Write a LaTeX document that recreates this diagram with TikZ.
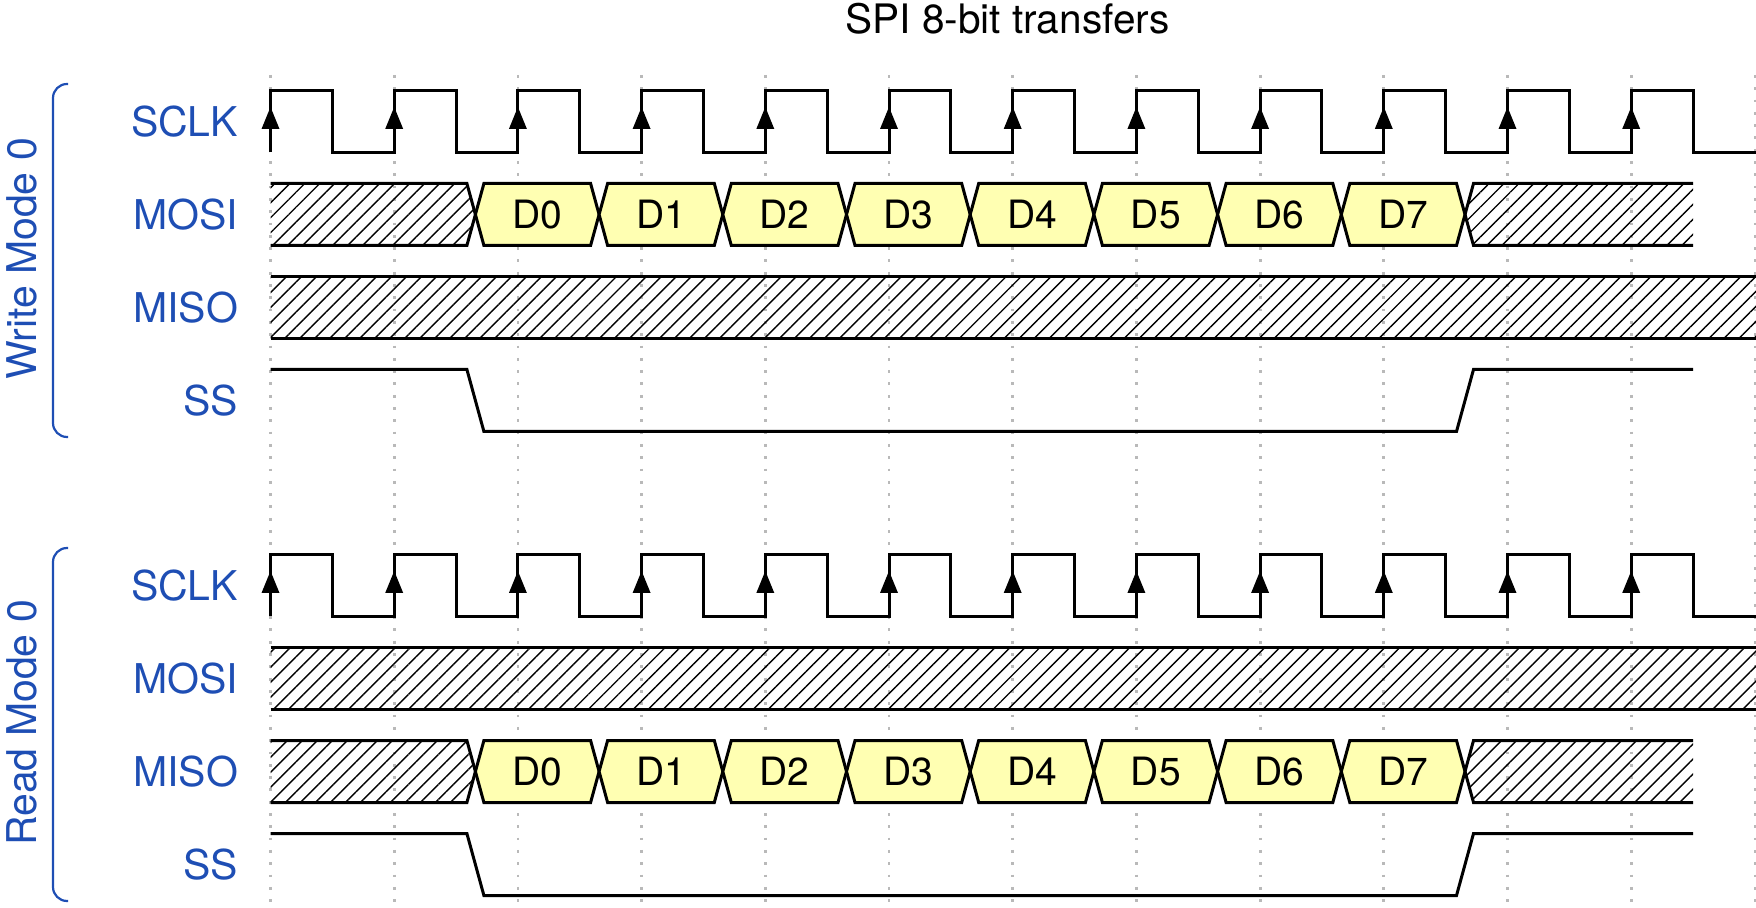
\documentclass[tikz,border=0pt]{standalone}
\usepackage{fontspec}
\setmainfont{TeX Gyre Heros}
\usetikzlibrary{patterns.meta}
\definecolor{lblue}{RGB}{30,78,180}
\definecolor{dyellow}{RGB}{255,255,178}
\definecolor{gridgray}{RGB}{185,185,185}
\begin{document}
\begin{tikzpicture}[x=0.5pt,y=-0.5pt,
  sig/.style={line width=1.5pt,black,line join=miter},
  hatch/.style={pattern={Lines[angle=45,distance=5.3pt,line width=0.7pt]},pattern color=black},
  lbl/.style={text=lblue,font=\fontsize{20.5}{24}\selectfont,anchor=east,inner sep=0pt},
  modelbl/.style={text=lblue,font=\fontsize{20.5}{24}\selectfont,rotate=90,inner sep=0pt},
  dat/.style={fill=dyellow,draw=black,line width=1.5pt,line join=miter},
  dlbl/.style={font=\fontsize{19.5}{23}\selectfont,inner sep=0pt},
  ttl/.style={font=\fontsize{20.3}{24}\selectfont,inner sep=0pt,anchor=base},
  gridln/.style={gridgray,line width=1.4pt,dash pattern=on 1.4pt off 4.75pt},
  brk/.style={lblue,line width=1.1pt,rounded corners=7pt}]
\useasboundingbox (0,0) rectangle (1756,908);
% grid
\foreach \k in {0,...,12}
  \draw[gridln] ({270.5+123.7*\k},75) -- ({270.5+123.7*\k},912);
% title
\node[ttl] (title) at (1007.5,34) {SPI 8-bit transfers};
\foreach \s/\off/\mname/\dr/\hr in {w/0/Write/183.5/276.5, r/464/Read/276.5/183.5}{
  \pgfmathsetmacro{\yc}{90.5+\off}
  \pgfmathsetmacro{\yl}{152.5+\off}
  \pgfmathsetmacro{\T}{\dr+\off}
  \pgfmathsetmacro{\M}{\dr+31+\off}
  \pgfmathsetmacro{\B}{\dr+62+\off}
  \pgfmathsetmacro{\HT}{\hr+\off}
  \pgfmathsetmacro{\HB}{\hr+62+\off}
  \pgfmathsetmacro{\SH}{369.5+\off}
  \pgfmathsetmacro{\SL}{431.5+\off}
  % labels
  \node[lbl] (sclk\s) at (238.5,{121.5+\off}) {SCLK};
  \node[lbl] (mosi\s) at (238.5,{214.5+\off}) {MOSI};
  \node[lbl] (miso\s) at (238.5,{307.5+\off}) {MISO};
  \node[lbl] (ss\s) at (238.5,{400.5+\off}) {SS};
  \node[modelbl] (mode\s) at (21.5,{259+\off}) {\mname\ Mode 0};
  \draw[brk] (68,{84+\off}) -- (53,{84+\off}) -- (53,{437+\off}) -- (68,{437+\off});
  % clock
  \draw[sig] (270.5,\yl) \foreach \k in {0,...,11}{
     -- ({270.5+123.7*\k},\yc) -- ({270.5+123.7*\k+61.85},\yc)
     -- ({270.5+123.7*\k+61.85},\yl) -- ({270.5+123.7*(\k+1)},\yl) } -- (1770,\yl);
  \foreach \k in {0,...,11}
    \fill ({270.5+123.7*\k},{107+\off}) -- ++(-9,22) -- ++(18,0) -- cycle;
  % full hatched row
  \fill[hatch] (270.5,\HT) rectangle (1770,\HB);
  \draw[sig] (270.5,\HT) -- (1770,\HT);
  \draw[sig] (270.5,\HB) -- (1770,\HB);
  % data row
  \fill[hatch] (270.5,\T) -- (466.9,\T) -- (475.4,\M) -- (466.9,\B) -- (270.5,\B) -- cycle;
  \draw[sig] (270.5,\T) -- (466.9,\T) -- (475.4,\M) -- (466.9,\B) -- (270.5,\B);
  \foreach \k in {0,...,7}{
    \pgfmathsetmacro{\a}{475.4+123.7*\k}
    \pgfmathsetmacro{\b}{475.4+123.7*(\k+1)}
    \filldraw[dat] (\a,\M) -- ({\a+8.5},\T) -- ({\b-8.5},\T) -- (\b,\M)
       -- ({\b-8.5},\B) -- ({\a+8.5},\B) -- cycle;
    \node[dlbl] (d\s\k) at ({(\a+\b)/2},\M) {D\k};
  }
  \fill[hatch] (1693,\T) -- (1473.5,\T) -- (1465,\M) -- (1473.5,\B) -- (1693,\B) -- cycle;
  \draw[sig] (1693,\T) -- (1473.5,\T) -- (1465,\M) -- (1473.5,\B) -- (1693,\B);
  % SS
  \draw[sig] (270.5,\SH) -- (466.9,\SH) -- (483.9,\SL) -- (1456.5,\SL)
     -- (1473.5,\SH) -- (1693,\SH);
}
\end{tikzpicture}
\end{document}
